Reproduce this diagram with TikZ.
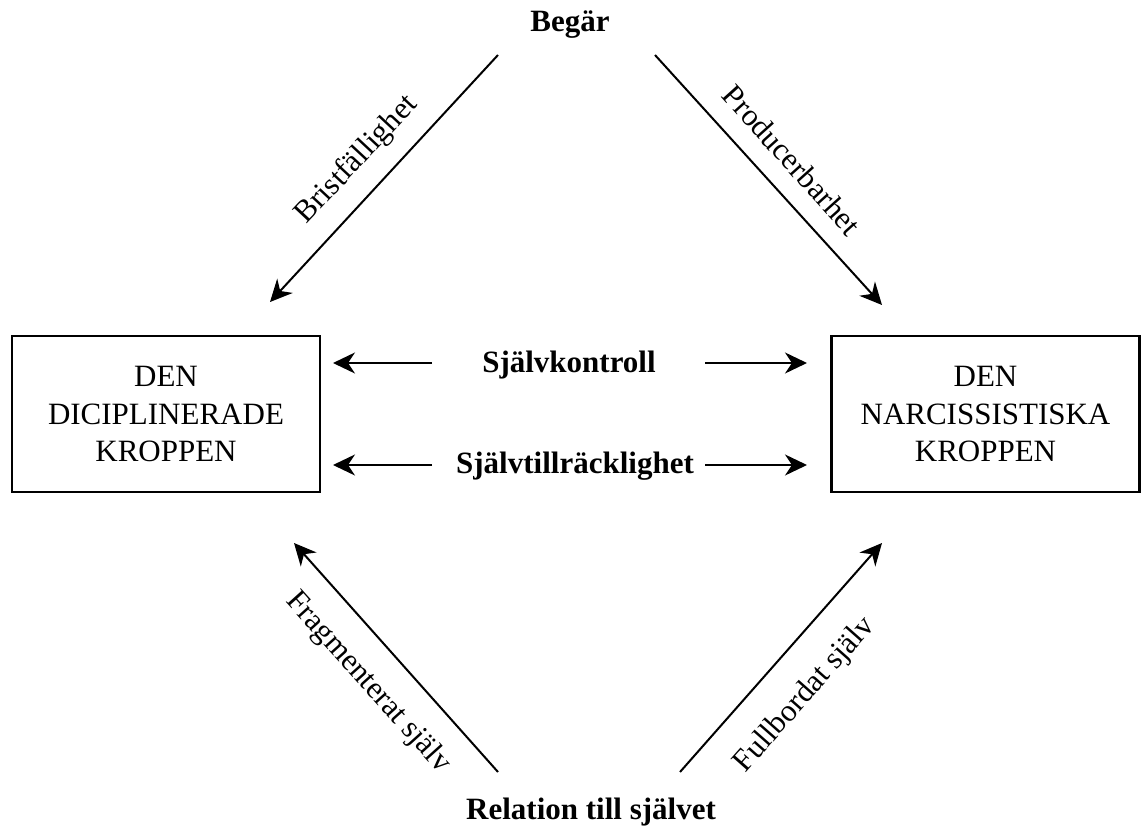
\documentclass[tikz,border=0pt]{standalone}
\usepackage{fontspec}
\setmainfont{Liberation Serif}
\usetikzlibrary{arrows.meta}
\begin{document}
\begin{tikzpicture}[x=0.5pt,y=-0.5pt,
  every node/.style={font=\fontsize{15.5}{18.75}\selectfont, inner sep=0pt},
  bodybox/.style={draw, line width=1.2pt, minimum width=154pt, minimum height=78pt, align=center},
  title/.style={font=\fontsize{15.5}{18}\selectfont\bfseries},
  conn/.style={line width=1pt, -{Stealth[length=11pt,width=10.5pt,inset=3.5pt]}},
  lbl/.style={font=\fontsize{15.5}{18}\selectfont}]
\useasboundingbox (0,0) rectangle (1141,829);
% boxes
\node[bodybox] (dis) at (166,414) {DEN\\DICIPLINERADE\\KROPPEN};
\node[bodybox] (nar) at (985.5,414) {DEN\\NARCISSISTISKA\\KROPPEN};
% titles
\node[title] (beg) at (570,25) {Begär};
\node[title] (rel) at (591,812) {Relation till självet};
\node[title] (kon) at (569,365) {Självkontroll};
\node[title] (til) at (575,466) {Självtillräcklighet};
% coordinates
\coordinate (k1) at (432,363); \coordinate (k1e) at (333,363);
\coordinate (k2) at (705,363); \coordinate (k2e) at (807,363);
\coordinate (t1) at (432,465); \coordinate (t1e) at (333,465);
\coordinate (t2) at (705,465); \coordinate (t2e) at (807,465);
\coordinate (bl) at (498,55);  \coordinate (ble) at (270,302);
\coordinate (br) at (655,55);  \coordinate (bre) at (882,305);
\coordinate (rl) at (498,772); \coordinate (rle) at (294,543);
\coordinate (rr) at (680,772); \coordinate (rre) at (882,543);
% horizontal arrows
\draw[conn] (k1) -- (k1e);
\draw[conn] (k2) -- (k2e);
\draw[conn] (t1) -- (t1e);
\draw[conn] (t2) -- (t2e);
% diagonal arrows
\draw[conn] (bl) -- (ble);
\draw[conn] (br) -- (bre);
\draw[conn] (rl) -- (rle);
\draw[conn] (rr) -- (rre);
% diagonal labels
\node[lbl, rotate=47] (bri) at (357,160) {Bristfällighet};
\node[lbl, rotate=-48] (pro) at (792,160) {Producerbarhet};
\node[lbl, rotate=-48] (fra) at (368,683) {Fragmenterat själv};
\node[lbl, rotate=48.5] (ful) at (805,695) {Fullbordat själv};
\end{tikzpicture}
\end{document}
